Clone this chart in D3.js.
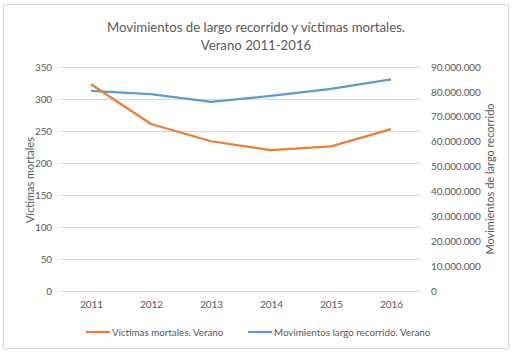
<!doctype html>
<html>
  <head>
    <script src="https://cdn.jsdelivr.net/npm/d3@7/dist/d3.min.js"></script>
    <style>
      body { margin: 0; background: #fff; }
      text { font-family: Lato, "Open Sans", sans-serif; fill: #595959; }
    </style>
  </head>
  <body>
    <div id="chart"></div>
    <script>
      // data
      var years = ["2011", "2012", "2013", "2014", "2015", "2016"];
      var victimas = [323, 261, 234, 220, 226, 253];
      var movimientos = [80400000, 79100000, 76000000, 78400000, 81200000, 85000000];
      var leftTicks = [0, 50, 100, 150, 200, 250, 300, 350];
      var rightTicks = [0, 10e6, 20e6, 30e6, 40e6, 50e6, 60e6, 70e6, 80e6, 90e6];

      var width = 514, height = 353;
      var plot = { left: 61, right: 421, top: 67, bottom: 291 };

      var es = d3.formatLocale({ decimal: ",", thousands: ".", grouping: [3], currency: ["", " €"] });
      var fmt = es.format(",d");

      var svg = d3.select("#chart").append("svg")
        .attr("width", width).attr("height", height);

      // outer border
      svg.append("rect")
        .attr("x", 3.5).attr("y", 4.5).attr("width", 505).attr("height", 344)
        .attr("fill", "#fff").attr("stroke", "#d9d9d9").attr("stroke-width", 1);

      var x = d3.scalePoint().domain(years).range([plot.left, plot.right]).padding(0.5);
      var yL = d3.scaleLinear().domain([0, 350]).range([plot.bottom, plot.top]);
      var yR = d3.scaleLinear().domain([0, 90e6]).range([plot.bottom, plot.top]);

      // gridlines
      svg.append("g").selectAll("line").data(leftTicks).enter().append("line")
        .attr("x1", plot.left).attr("x2", plot.right)
        .attr("y1", function(d) { return yL(d) + 0.5; })
        .attr("y2", function(d) { return yL(d) + 0.5; })
        .attr("stroke", "#d9d9d9").attr("stroke-width", 1);

      // left axis
      var gl = svg.append("g").attr("transform", "translate(" + (plot.left - 9) + ",0)")
        .call(d3.axisLeft(yL).tickValues(leftTicks).tickSize(0).tickPadding(0));
      gl.select(".domain").remove();

      // right axis
      var gr = svg.append("g").attr("transform", "translate(" + (plot.right + 10) + ",0)")
        .call(d3.axisRight(yR).tickValues(rightTicks).tickSize(0).tickPadding(0).tickFormat(fmt));
      gr.select(".domain").remove();

      // bottom axis
      var gb = svg.append("g").attr("transform", "translate(0," + (plot.bottom + 10) + ")")
        .call(d3.axisBottom(x).tickSize(0).tickPadding(0));
      gb.select(".domain").remove();

      svg.selectAll(".tick text")
        .style("font-family", "Lato, sans-serif")
        .style("font-size", "10px")
        .style("letter-spacing", "-0.15px")
        .attr("fill", "#595959");

      // lines
      var lineL = d3.line().x(function(d, i) { return x(years[i]); }).y(function(d) { return yL(d); });
      var lineR = d3.line().x(function(d, i) { return x(years[i]); }).y(function(d) { return yR(d); });

      svg.append("path").datum(movimientos).attr("d", lineR)
        .attr("fill", "none").attr("stroke", "#5b9bd5").attr("stroke-width", 2.25)
        .attr("stroke-linejoin", "round");
      svg.append("path").datum(victimas).attr("d", lineL)
        .attr("fill", "none").attr("stroke", "#ed7d31").attr("stroke-width", 2.25)
        .attr("stroke-linejoin", "round");

      // title
      svg.append("text").attr("x", 256).attr("y", 32).attr("text-anchor", "middle")
        .style("font-size", "13.2px").text("Movimientos de largo recorrido y víctimas mortales.");
      svg.append("text").attr("x", 256).attr("y", 50).attr("text-anchor", "middle")
        .style("font-size", "13.2px").text("Verano 2011-2016");

      // axis titles
      svg.append("text").attr("transform", "translate(34,180) rotate(-90)")
        .attr("text-anchor", "middle").style("font-size", "11px").text("Víctimas mortales");
      svg.append("text").attr("transform", "translate(494,179) rotate(-90)")
        .attr("text-anchor", "middle").style("font-size", "11px").text("Movimientos de largo recorrido");

      // legend
      var legend = [
        { name: "Víctimas mortales. Verano", color: "#ed7d31", x: 86 },
        { name: "Movimientos largo recorrido. Verano", color: "#5b9bd5", x: 248 }
      ];
      var lg = svg.append("g").selectAll("g").data(legend).enter().append("g")
        .attr("transform", function(d) { return "translate(" + d.x + ",332)"; });
      lg.append("line").attr("x1", 0).attr("x2", 24).attr("y1", 0).attr("y2", 0)
        .attr("stroke", function(d) { return d.color; }).attr("stroke-width", 2.25);
      lg.append("text").attr("x", 26).attr("y", 3.5).style("font-size", "9.8px")
        .text(function(d) { return d.name; });
    </script>
  </body>
</html>
